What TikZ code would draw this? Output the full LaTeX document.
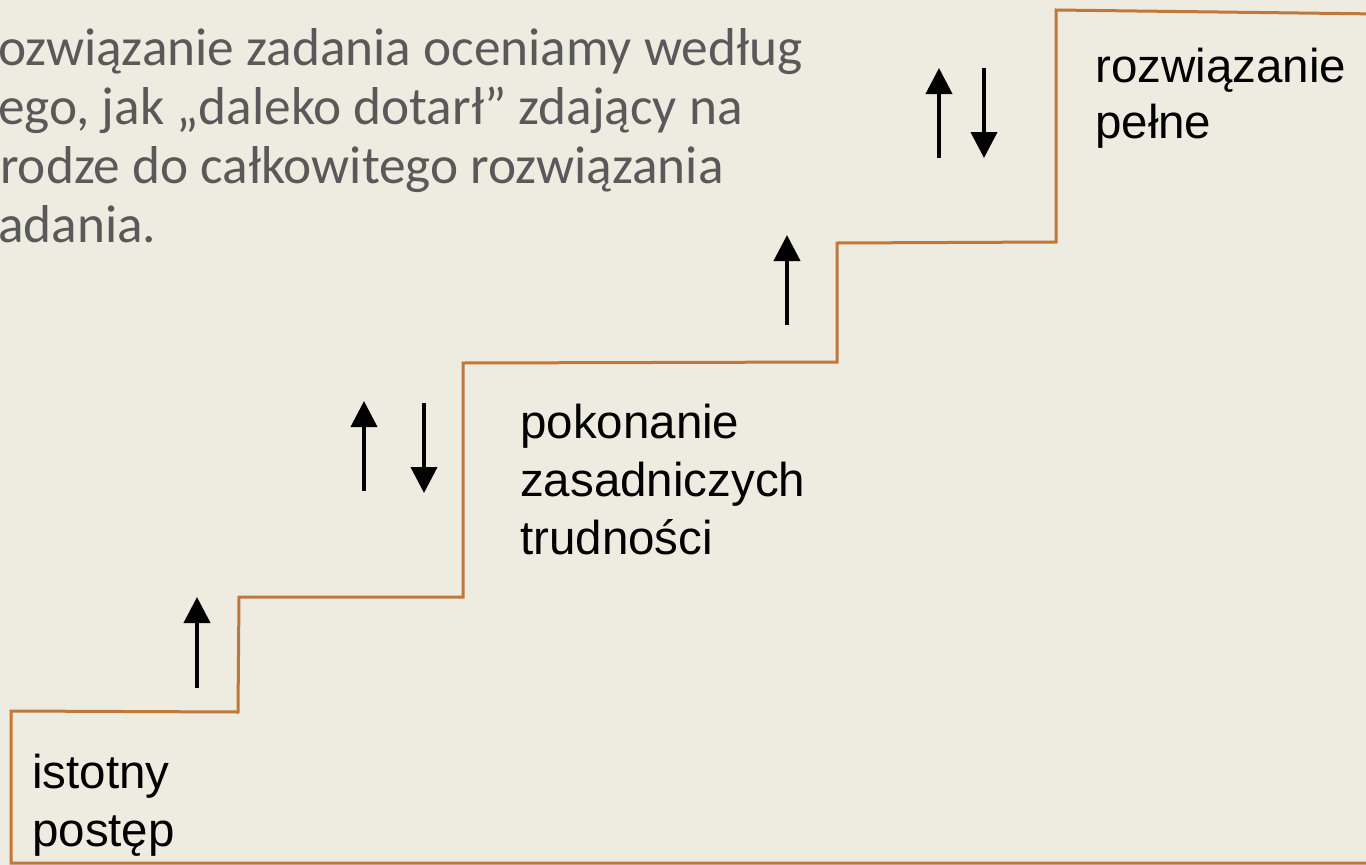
\documentclass[tikz,border=0pt]{standalone}
\usepackage{fontspec}
\setmainfont{Liberation Sans}
\newfontfamily\graytextfont{Carlito}
\usetikzlibrary{arrows.meta}
\definecolor{bgtan}{HTML}{EEECE1}
\definecolor{stairbrown}{HTML}{C0773A}
\definecolor{introgray}{HTML}{595959}
\tikzset{
  stairline/.style={draw=stairbrown, line width=3pt, line join=miter},
  bigarrow/.style={draw=black, line width=4pt, -{Triangle[length=26pt,width=26pt]}},
  steplabel/.style={anchor=base west, inner sep=0pt, font=\fontsize{47.5}{56}\selectfont, text=black},
  introline/.style={anchor=base west, inner sep=0pt, font=\graytextfont\fontsize{53.3}{58}\selectfont, text=introgray}
}
\begin{document}
\begin{tikzpicture}[x=1pt,y=-1pt]
\useasboundingbox (0,0) rectangle (1366,865);
\fill[bgtan] (0,0) rectangle (1366,865);
\begin{scope}
\clip (0,0) rectangle (1366,865);
% staircase
\coordinate (s0) at (11,863);
\coordinate (s1) at (11,711);
\coordinate (s2) at (238,712);
\coordinate (s3) at (239,597);
\coordinate (s4) at (463,597);
\coordinate (s5) at (463,363);
\coordinate (s6) at (837,362);
\coordinate (s7) at (837,243);
\coordinate (s8) at (1056,242);
\coordinate (s9) at (1056,10);
\coordinate (s10) at (1380,14);
\coordinate (s11) at (1380,863);
\draw[stairline] (s0) -- (s1) -- (s2) -- (s3) -- (s4) -- (s5) -- (s6) -- (s7) -- (s8) -- (s9) -- (s10) -- (s11) -- cycle;
\end{scope}
% intro text
\node[introline] (t1) at (-2,65) {ozwiązanie zadania oceniamy według};
\node[introline] (t2) at (-2,124) {ego, jak „daleko dotarł” zdający na};
\node[introline] (t3) at (0,183) {rodze do całkowitego rozwiązania};
\node[introline] (t4) at (-2,242) {adania.};
% step labels
\node[steplabel] (l1a) at (32,788) {istotny};
\node[steplabel] (l1b) at (32,846) {postęp};
\node[steplabel] (l2a) at (520,438) {pokonanie};
\node[steplabel] (l2b) at (520,496) {zasadniczych};
\node[steplabel] (l2c) at (520,554) {trudności};
\node[steplabel] (l3a) at (1095,82) {rozwiązanie};
\node[steplabel] (l3b) at (1095,138) {pełne};
% arrows
\coordinate (a1s) at (197,688); \coordinate (a1e) at (197,597);
\coordinate (a2s) at (364,491); \coordinate (a2e) at (364,401);
\coordinate (a3s) at (424,403); \coordinate (a3e) at (424,493);
\coordinate (a4s) at (787,325); \coordinate (a4e) at (787,235);
\coordinate (a5s) at (939,158); \coordinate (a5e) at (939,68);
\coordinate (a6s) at (984,68); \coordinate (a6e) at (984,158);
\draw[bigarrow] (a1s) -- (a1e);
\draw[bigarrow] (a2s) -- (a2e);
\draw[bigarrow] (a3s) -- (a3e);
\draw[bigarrow] (a4s) -- (a4e);
\draw[bigarrow] (a5s) -- (a5e);
\draw[bigarrow] (a6s) -- (a6e);
\end{tikzpicture}
\end{document}
